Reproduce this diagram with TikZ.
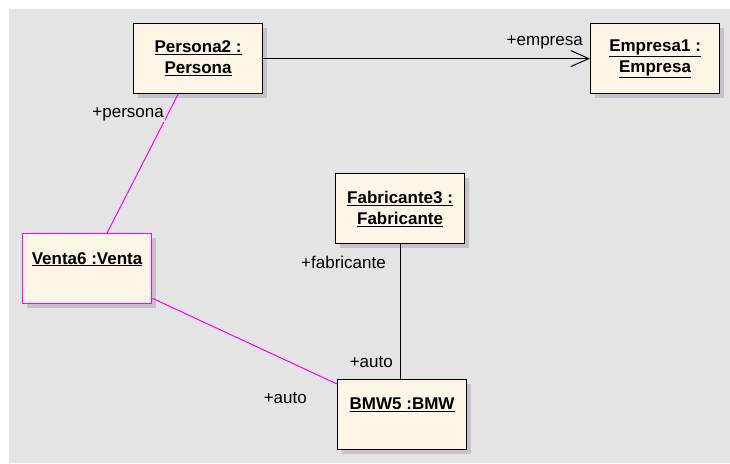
\documentclass[tikz,border=0pt]{standalone}
\usepackage{fontspec}
\setmainfont{Liberation Sans}
\usetikzlibrary{shadows,arrows.meta}

\definecolor{bggray}{HTML}{E4E4E4}
\definecolor{objfill}{HTML}{FDF5E6}
\definecolor{shadowgray}{HTML}{C8C0CC}
\definecolor{linkmagenta}{HTML}{FF00FF}

\newcommand{\objname}[1]{\underline{\textbf{#1}}}

\begin{document}
\begin{tikzpicture}[
        x=1pt, y=-1pt,
        object/.style={draw=black, line width=1.2pt, fill=objfill, anchor=north west,
                       minimum width=129pt, minimum height=70pt, align=center,
                       font=\fontsize{17}{21}\selectfont, inner sep=0pt,
                       drop shadow={shadow xshift=4pt, shadow yshift=-4pt, fill=shadowgray, opacity=1}},
        role/.style={font=\fontsize{17}{19}\selectfont, fill=bggray, inner sep=1pt, anchor=base east},
        link/.style={line width=1pt, draw=black},
        sel/.style={line width=1pt, draw=linkmagenta}
    ]
    \useasboundingbox (0, 0) rectangle (730, 463);
    \fill[bggray] (9, 9) rectangle (730, 463);

    % Objekte
    \node[object] (persona) at (133, 23) {\objname{Persona2 :}\\\objname{Persona}};
    \node[object] (empresa) at (590, 23) {\objname{Empresa1 :}\\\objname{Empresa}};
    \node[object] (fabricante) at (335, 173) {\objname{Fabricante3 :}\\\objname{Fabricante}};
    \node[object, draw=linkmagenta] (venta) at (22, 233) {\objname{Venta6 :Venta}\\\mbox{}};
    \node[object] (bmw) at (337, 379) {\objname{BMW5 :BMW}\\\mbox{}};

    % Verbindungen
    \draw[link, -{Straight Barb[length=18pt, width=16pt, line width=1pt]}] (persona.east) -- (empresa.west);
    \draw[link] (fabricante.south) -- (fabricante.south |- bmw.north);
    \draw[sel] ([xshift=-20pt]persona.south) -- ([xshift=20pt]venta.north);
    \draw[sel] ([yshift=6pt]venta.south east) -- ([yshift=-5pt]bmw.north west);

    % Rollen
    \node[role] (rempresa) at (584, 45) {+empresa};
    \node[role] (rpersona) at (165, 117) {+persona};
    \node[role] (rfabricante) at (387, 268) {+fabricante};
    \node[role] (rautofab) at (394, 367) {+auto};
    \node[role] (rautoventa) at (308, 403) {+auto};
\end{tikzpicture}
\end{document}
